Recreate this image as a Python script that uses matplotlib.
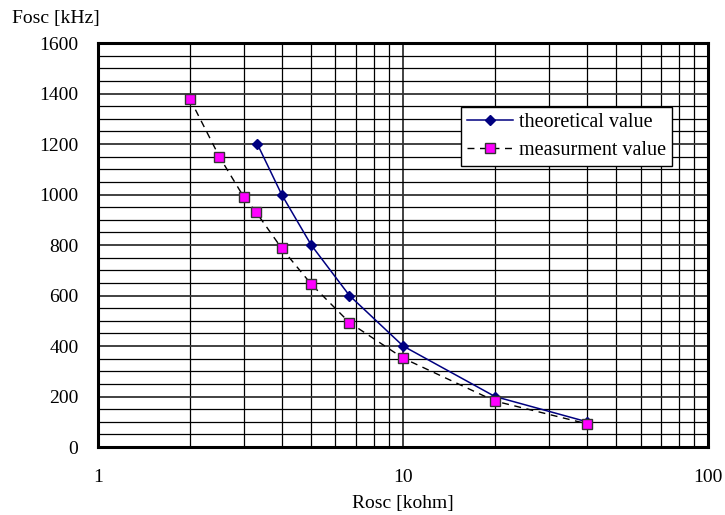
import matplotlib.pyplot as plt
from matplotlib.ticker import FixedLocator, NullFormatter

plt.rcParams['font.family'] = ['Liberation Serif', 'DejaVu Serif']

# theoretical curve
r_theo = [3.33, 4, 5, 6.67, 10, 20, 40]
f_theo = [1200, 1000, 800, 600, 400, 200, 100]

# measured values
r_meas = [2, 2.5, 3, 3.3, 4, 5, 6.67, 10, 20, 40]
f_meas = [1380, 1150, 992, 930, 787, 645, 493, 352, 182, 92]

fs = 14

fig = plt.figure(figsize=(7.25, 5.15), dpi=100)
ax = fig.add_axes([0.135, 0.132, 0.842, 0.7845])

ax.plot(r_theo, f_theo, color='#000080', lw=1.1, marker='D', ms=5,
        mfc='#000080', mec='#000080', label='theoretical value', zorder=3)
ax.plot(r_meas, f_meas, color='black', lw=1.0, ls=(0, (5, 4)), marker='s', ms=6.5,
        mfc='#ff00ff', mec='#333333', mew=1.0, label='measurment value', zorder=4)

ax.set_xscale('log')
ax.set_xlim(1, 100)
ax.set_ylim(0, 1600)
ax.set_xticks([1, 10, 100])
ax.set_xticklabels(['1', '10', '100'])
ax.xaxis.set_minor_locator(FixedLocator([k * d for d in (1, 10) for k in range(2, 10)]))
ax.xaxis.set_minor_formatter(NullFormatter())
ax.set_yticks(range(0, 1601, 200))
ax.yaxis.set_minor_locator(FixedLocator(range(0, 1601, 50)))

ax.grid(which='minor', color='black', lw=0.9)
ax.grid(which='major', color='#333333', lw=1.3)
ax.set_axisbelow(True)
ax.tick_params(which='both', length=0, labelsize=fs)
ax.tick_params(axis='x', pad=16)
ax.tick_params(axis='y', pad=14)
for s in ax.spines.values():
    s.set_linewidth(2.2)

fig.text(0.556, 0.023, 'Rosc [kohm]', fontsize=fs, va='center', ha='center')
fig.text(0.017, 0.965, 'Fosc [kHz]', fontsize=fs, va='center', ha='left')

leg = ax.legend(loc='upper right', bbox_to_anchor=(0.941, 0.842), fontsize=14.5,
                frameon=True, fancybox=False, edgecolor='black', framealpha=1,
                handlelength=2.3, handletextpad=0.3, borderpad=0.3,
                labelspacing=0.45, borderaxespad=0)
leg.get_frame().set_linewidth(1.0)

plt.savefig('out.png', dpi=100)
